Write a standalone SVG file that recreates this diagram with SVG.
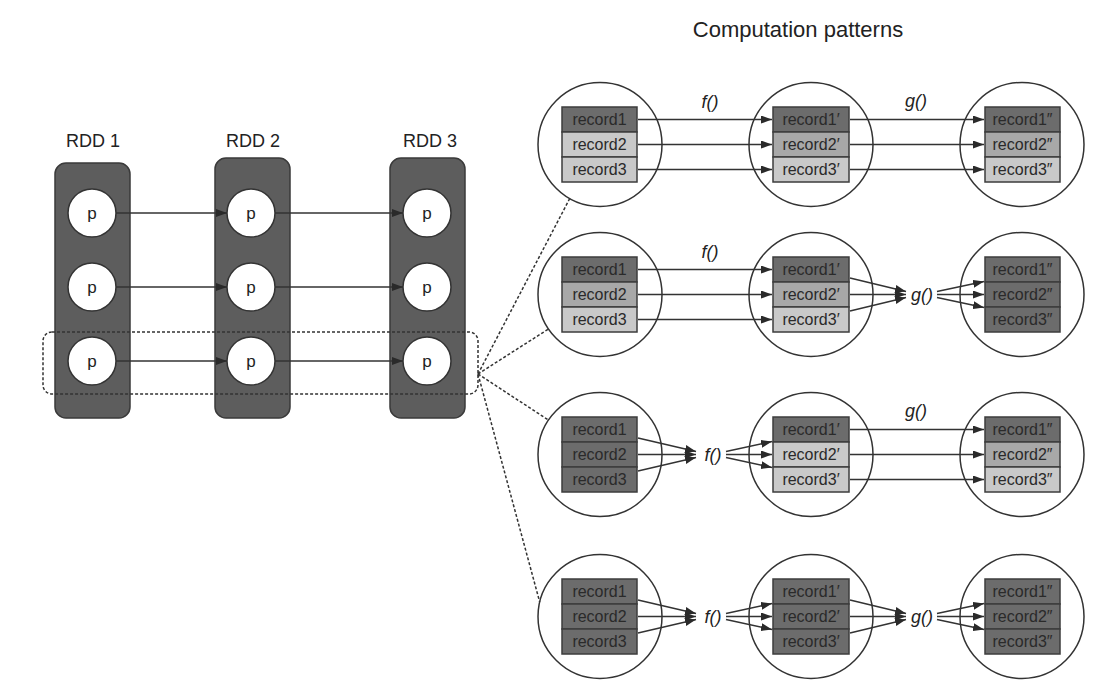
<svg xmlns="http://www.w3.org/2000/svg" width="1120" height="691" viewBox="0 0 1120 691">
<defs>
<marker id="ah" markerUnits="userSpaceOnUse" markerWidth="11" markerHeight="8" refX="11" refY="4" orient="auto">
<path d="M0,0 L11,4 L0,8 z" fill="#2a2a2a"/>
</marker>
<style>
text{font-family:"Liberation Sans",Arial,sans-serif;fill:#222}
.t{font-size:22px;text-anchor:middle}
.lbl{font-size:18px;text-anchor:middle}
.p{font-size:17px;text-anchor:middle}
.rec{font-size:16px;text-anchor:middle;fill:#2a2a2a}
.fn{font-size:18px;font-style:italic;text-anchor:middle}
.rdd{fill:#5d5d5d;stroke:#3a3a3a;stroke-width:1.5}
.pc{fill:#fff;stroke:#333;stroke-width:1.5}
.big{fill:#fff;stroke:#333;stroke-width:1.5}
.d{fill:#6c6c6c;stroke:#3c3c3c;stroke-width:1.5}
.m{fill:#a8a8a8;stroke:#3c3c3c;stroke-width:1.5}
.l{fill:#c9c9c9;stroke:#3c3c3c;stroke-width:1.5}
.ar{stroke:#333;stroke-width:1.5;fill:none;marker-end:url(#ah)}
.dash{stroke:#333;stroke-width:1.5;fill:none;stroke-dasharray:3 2}
</style>
</defs>
<rect width="1120" height="691" fill="#fff"/>

<text class="t" x="798" y="37">Computation patterns</text>

<g id="rdd1">
<text class="lbl" x="93" y="147">RDD 1</text>
<rect class="rdd" x="55" y="163" width="75" height="255" rx="11"/>
<circle class="pc" cx="92" cy="213" r="24"/><text class="p" x="92" y="219">p</text>
<circle class="pc" cx="92" cy="287" r="24"/><text class="p" x="92" y="293">p</text>
<circle class="pc" cx="92" cy="361" r="24"/><text class="p" x="92" y="367">p</text>
</g>
<g id="rdd2">
<text class="lbl" x="253" y="147">RDD 2</text>
<rect class="rdd" x="215" y="158" width="75" height="260" rx="11"/>
<circle class="pc" cx="251" cy="213" r="24"/><text class="p" x="251" y="219">p</text>
<circle class="pc" cx="251" cy="287" r="24"/><text class="p" x="251" y="293">p</text>
<circle class="pc" cx="251" cy="361" r="24"/><text class="p" x="251" y="367">p</text>
</g>
<g id="rdd3">
<text class="lbl" x="430" y="147">RDD 3</text>
<rect class="rdd" x="390" y="158" width="75" height="260" rx="11"/>
<circle class="pc" cx="427" cy="213" r="24"/><text class="p" x="427" y="219">p</text>
<circle class="pc" cx="427" cy="287" r="24"/><text class="p" x="427" y="293">p</text>
<circle class="pc" cx="427" cy="361" r="24"/><text class="p" x="427" y="367">p</text>
</g>

<!-- pattern row 1 -->
<g id="r1c1">
<circle class="big" cx="600" cy="144.5" r="62"/>
<rect class="d" x="562" y="107" width="75" height="25"/><text class="rec" x="599.5" y="125">record1</text>
<rect class="l" x="562" y="132" width="75" height="25"/><text class="rec" x="599.5" y="150">record2</text>
<rect class="l" x="562" y="157" width="75" height="25"/><text class="rec" x="599.5" y="175">record3</text>
</g>
<g id="r1c2">
<circle class="big" cx="811" cy="144.5" r="62"/>
<rect class="d" x="773" y="107" width="76" height="25"/><text class="rec" x="811" y="125">record1′</text>
<rect class="m" x="773" y="132" width="76" height="25"/><text class="rec" x="811" y="150">record2′</text>
<rect class="l" x="773" y="157" width="76" height="25"/><text class="rec" x="811" y="175">record3′</text>
</g>
<g id="r1c3">
<circle class="big" cx="1022" cy="144.5" r="62"/>
<rect class="d" x="985" y="107" width="75" height="25"/><text class="rec" x="1022.5" y="125">record1″</text>
<rect class="m" x="985" y="132" width="75" height="25"/><text class="rec" x="1022.5" y="150">record2″</text>
<rect class="l" x="985" y="157" width="75" height="25"/><text class="rec" x="1022.5" y="175">record3″</text>
</g>

<!-- pattern row 2 -->
<g id="r2c1">
<circle class="big" cx="600" cy="294.5" r="62"/>
<rect class="d" x="562" y="257" width="75" height="25"/><text class="rec" x="599.5" y="275">record1</text>
<rect class="m" x="562" y="282" width="75" height="25"/><text class="rec" x="599.5" y="300">record2</text>
<rect class="l" x="562" y="307" width="75" height="25"/><text class="rec" x="599.5" y="325">record3</text>
</g>
<g id="r2c2">
<circle class="big" cx="811" cy="294.5" r="62"/>
<rect class="d" x="773" y="257" width="76" height="25"/><text class="rec" x="811" y="275">record1′</text>
<rect class="m" x="773" y="282" width="76" height="25"/><text class="rec" x="811" y="300">record2′</text>
<rect class="l" x="773" y="307" width="76" height="25"/><text class="rec" x="811" y="325">record3′</text>
</g>
<g id="r2c3">
<circle class="big" cx="1022" cy="294.5" r="62"/>
<rect class="d" x="985" y="257" width="75" height="25"/><text class="rec" x="1022.5" y="275">record1″</text>
<rect class="d" x="985" y="282" width="75" height="25"/><text class="rec" x="1022.5" y="300">record2″</text>
<rect class="d" x="985" y="307" width="75" height="25"/><text class="rec" x="1022.5" y="325">record3″</text>
</g>

<!-- pattern row 3 -->
<g id="r3c1">
<circle class="big" cx="600" cy="454.5" r="62"/>
<rect class="d" x="562" y="417" width="75" height="25"/><text class="rec" x="599.5" y="435">record1</text>
<rect class="d" x="562" y="442" width="75" height="25"/><text class="rec" x="599.5" y="460">record2</text>
<rect class="d" x="562" y="467" width="75" height="25"/><text class="rec" x="599.5" y="485">record3</text>
</g>
<g id="r3c2">
<circle class="big" cx="811" cy="454.5" r="62"/>
<rect class="d" x="773" y="417" width="76" height="25"/><text class="rec" x="811" y="435">record1′</text>
<rect class="l" x="773" y="442" width="76" height="25"/><text class="rec" x="811" y="460">record2′</text>
<rect class="l" x="773" y="467" width="76" height="25"/><text class="rec" x="811" y="485">record3′</text>
</g>
<g id="r3c3">
<circle class="big" cx="1022" cy="454.5" r="62"/>
<rect class="d" x="985" y="417" width="75" height="25"/><text class="rec" x="1022.5" y="435">record1″</text>
<rect class="m" x="985" y="442" width="75" height="25"/><text class="rec" x="1022.5" y="460">record2″</text>
<rect class="l" x="985" y="467" width="75" height="25"/><text class="rec" x="1022.5" y="485">record3″</text>
</g>

<!-- pattern row 4 -->
<g id="r4c1">
<circle class="big" cx="600" cy="616.5" r="62"/>
<rect class="d" x="562" y="579" width="75" height="25"/><text class="rec" x="599.5" y="597">record1</text>
<rect class="d" x="562" y="604" width="75" height="25"/><text class="rec" x="599.5" y="622">record2</text>
<rect class="d" x="562" y="629" width="75" height="25"/><text class="rec" x="599.5" y="647">record3</text>
</g>
<g id="r4c2">
<circle class="big" cx="811" cy="616.5" r="62"/>
<rect class="d" x="773" y="579" width="76" height="25"/><text class="rec" x="811" y="597">record1′</text>
<rect class="d" x="773" y="604" width="76" height="25"/><text class="rec" x="811" y="622">record2′</text>
<rect class="d" x="773" y="629" width="76" height="25"/><text class="rec" x="811" y="647">record3′</text>
</g>
<g id="r4c3">
<circle class="big" cx="1022" cy="616.5" r="62"/>
<rect class="d" x="985" y="579" width="75" height="25"/><text class="rec" x="1022.5" y="597">record1″</text>
<rect class="d" x="985" y="604" width="75" height="25"/><text class="rec" x="1022.5" y="622">record2″</text>
<rect class="d" x="985" y="629" width="75" height="25"/><text class="rec" x="1022.5" y="647">record3″</text>
</g>

<g id="fnlabels">
<text class="fn" x="710" y="108">f()</text>
<text class="fn" x="916" y="107">g()</text>
<text class="fn" x="710" y="258">f()</text>
<text class="fn" x="922" y="301">g()</text>
<text class="fn" x="713" y="461">f()</text>
<text class="fn" x="916" y="417">g()</text>
<text class="fn" x="713" y="623">f()</text>
<text class="fn" x="922" y="623">g()</text>
</g>

<g id="connectors">
<line class="ar" x1="116" y1="213" x2="227" y2="213"/>
<line class="ar" x1="116" y1="287" x2="227" y2="287"/>
<line class="ar" x1="116" y1="361" x2="227" y2="361"/>
<line class="ar" x1="275" y1="213" x2="403" y2="213"/>
<line class="ar" x1="275" y1="287" x2="403" y2="287"/>
<line class="ar" x1="275" y1="361" x2="403" y2="361"/>
<rect class="dash" x="43" y="332" width="435" height="62" rx="9"/>
<line class="dash" x1="478" y1="374" x2="570" y2="198"/>
<line class="dash" x1="478" y1="374" x2="548.5" y2="329"/>
<line class="dash" x1="478" y1="374" x2="548.4" y2="420"/>
<line class="dash" x1="478" y1="374" x2="539.7" y2="602"/>
<line class="ar" x1="638" y1="119.5" x2="772" y2="119.5"/>
<line class="ar" x1="638" y1="144.5" x2="772" y2="144.5"/>
<line class="ar" x1="638" y1="169.5" x2="772" y2="169.5"/>
<line class="ar" x1="850" y1="119.5" x2="984" y2="119.5"/>
<line class="ar" x1="850" y1="144.5" x2="984" y2="144.5"/>
<line class="ar" x1="850" y1="169.5" x2="984" y2="169.5"/>
<line class="ar" x1="638" y1="269.5" x2="772" y2="269.5"/>
<line class="ar" x1="638" y1="294.5" x2="772" y2="294.5"/>
<line class="ar" x1="638" y1="319.5" x2="772" y2="319.5"/>
<line class="ar" x1="850" y1="278" x2="906" y2="291.5"/>
<line class="ar" x1="850" y1="294.5" x2="906" y2="294.5"/>
<line class="ar" x1="850" y1="311" x2="906" y2="297.5"/>
<line class="ar" x1="937" y1="291.5" x2="984" y2="281.5"/>
<line class="ar" x1="937" y1="294.5" x2="984" y2="294.5"/>
<line class="ar" x1="937" y1="297.5" x2="984" y2="307.5"/>
<line class="ar" x1="638" y1="438" x2="696" y2="451.5"/>
<line class="ar" x1="638" y1="454.5" x2="696" y2="454.5"/>
<line class="ar" x1="638" y1="471" x2="696" y2="457.5"/>
<line class="ar" x1="726" y1="451.5" x2="772" y2="441.5"/>
<line class="ar" x1="726" y1="454.5" x2="772" y2="454.5"/>
<line class="ar" x1="726" y1="457.5" x2="772" y2="467.5"/>
<line class="ar" x1="850" y1="429.5" x2="984" y2="429.5"/>
<line class="ar" x1="850" y1="454.5" x2="984" y2="454.5"/>
<line class="ar" x1="850" y1="479.5" x2="984" y2="479.5"/>
<line class="ar" x1="638" y1="600" x2="696" y2="613.5"/>
<line class="ar" x1="638" y1="616.5" x2="696" y2="616.5"/>
<line class="ar" x1="638" y1="633" x2="696" y2="619.5"/>
<line class="ar" x1="726" y1="613.5" x2="772" y2="603.5"/>
<line class="ar" x1="726" y1="616.5" x2="772" y2="616.5"/>
<line class="ar" x1="726" y1="619.5" x2="772" y2="629.5"/>
<line class="ar" x1="850" y1="600" x2="906" y2="613.5"/>
<line class="ar" x1="850" y1="616.5" x2="906" y2="616.5"/>
<line class="ar" x1="850" y1="633" x2="906" y2="619.5"/>
<line class="ar" x1="937" y1="613.5" x2="984" y2="603.5"/>
<line class="ar" x1="937" y1="616.5" x2="984" y2="616.5"/>
<line class="ar" x1="937" y1="619.5" x2="984" y2="629.5"/>
</g>
</svg>
